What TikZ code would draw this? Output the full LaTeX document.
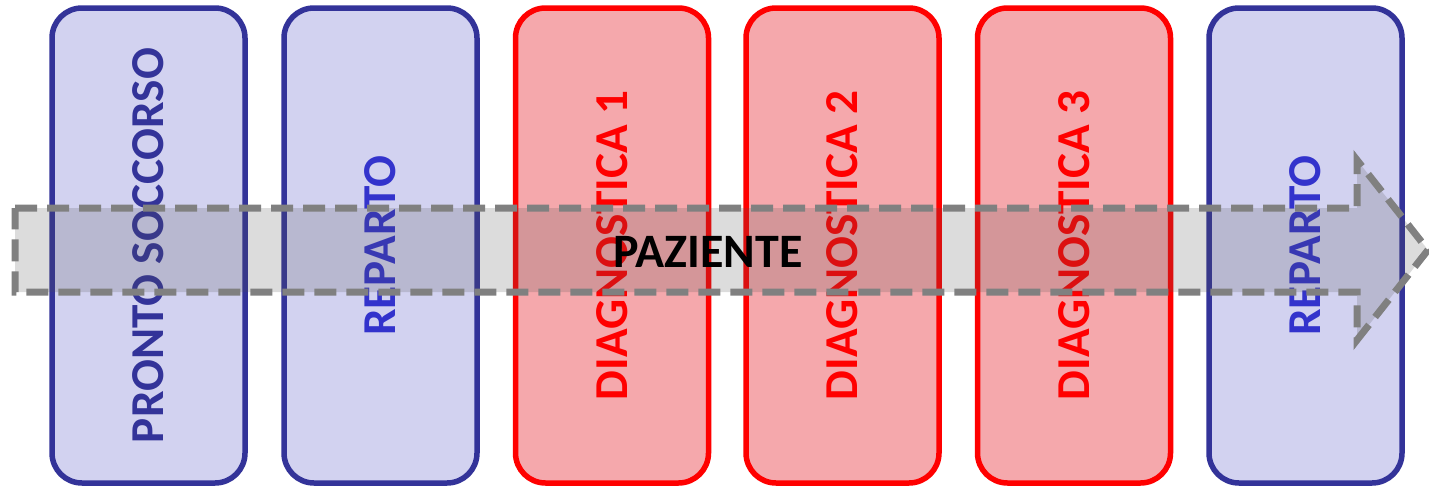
\documentclass[tikz,border=0pt]{standalone}
\usepackage{fontspec}
\setmainfont{Carlito}
\usetikzlibrary{positioning}

\definecolor{bluedark}{RGB}{51,51,153}
\definecolor{bluetext}{RGB}{51,51,204}
\definecolor{bluefill}{RGB}{210,210,240}
\definecolor{redfill}{RGB}{245,168,172}
\definecolor{pathgray}{RGB}{128,128,128}
\definecolor{pathfill}{RGB}{80,80,80}

\tikzset{
  ward/.style={draw=bluedark, fill=bluefill, line width=2.75pt, rounded corners=15pt,
    rotate=90, minimum width=237.5pt, minimum height=96.5pt,
    font=\fontsize{23.6}{28}\selectfont\bfseries},
  diag/.style={ward, draw=red, fill=redfill, text=red},
  flow/.style={draw=pathgray, fill=pathfill, fill opacity=0.2, line width=3.5pt,
    dash pattern=on 11pt off 5pt}
}

\begin{document}
\begin{tikzpicture}[x=0.5pt,y=-0.5pt]
          \useasboundingbox (0,0) rectangle (1429,487);
          % six columns
          \node[ward, text=bluedark] (ps) at (148.5,245.5) {PRONTO SOCCORSO};
          \node[ward, text=bluetext] (rep1) at (380.5,245.5) {REPARTO};
          \node[diag] (dia1) at (612,245.5) {DIAGNOSTICA 1};
          \node[diag] (dia2) at (842.5,245.5) {DIAGNOSTICA 2};
          \node[diag] (dia3) at (1074,245.5) {DIAGNOSTICA 3};
          \node[ward, text=bluetext] (rep2) at (1305.5,245.5) {REPARTO};
          % the patient's path
          \draw[flow] (15,208) -- (1357,208) -- (1357,160) -- (1428,250)
            -- (1357,340) -- (1357,292) -- (15,292) -- cycle;
          \node[font=\fontsize{24}{28}\selectfont\bfseries] (paz) at (708,252) {PAZIENTE};
        \end{tikzpicture}
\end{document}
